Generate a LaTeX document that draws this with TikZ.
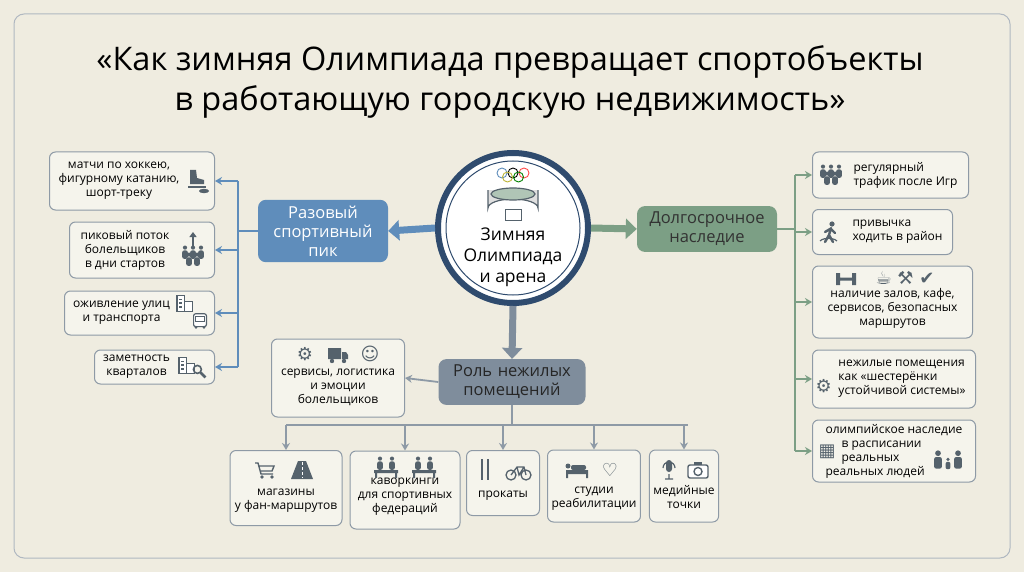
\documentclass[tikz,border=0pt]{standalone}
\usepackage{fontspec}
\setmainfont{Open Sans}
\newfontfamily\symfont{DejaVu Sans}
\usetikzlibrary{arrows.meta,positioning}
\definecolor{bgc}{HTML}{EFECE0}
\definecolor{navy}{HTML}{2F4B6E}
\definecolor{bluec}{HTML}{5F8DBB}
\definecolor{greenc}{HTML}{7C9F85}
\definecolor{grayc}{HTML}{7F8D9C}
\definecolor{linec}{HTML}{8E9AA6}
\definecolor{icon}{HTML}{55626C}
\tikzset{item/.style={draw=linec,line width=1pt,rounded corners=6pt,fill=bgc!60!white,align=center,font=\fontsize{12}{14}\selectfont,inner sep=4pt},
  hub/.style={rounded corners=8pt,text=white,align=center,font=\fontsize{16.5}{19}\selectfont,inner sep=6pt},
  bar/.style={line width=1.8pt,-{Stealth[length=7pt,width=8pt]}},
  fat/.style={line width=7pt,-{Triangle[length=11pt,width=20pt]}},
  ic/.style={text=icon,font=\symfont\fontsize{18}{18}\selectfont},
  person/.pic={\fill[icon] (0,-8) circle (2.6); \fill[icon,rounded corners=2pt] (-3.5,-4.5) rectangle (3.5,6);},
  crowd/.pic={\foreach \dx/\dy in {-8/-3,0/-3,8/-3,-4/4,4/4} \pic[scale=.8] at (\dx,\dy) {person};},
  bus/.pic={\draw[icon,fill=white,line width=1.2pt,rounded corners=2pt] (-8,-9) rectangle (8,7); \draw[icon,line width=1pt] (-6,-6) rectangle (6,0); \fill[icon] (-5,8) circle (1.8) (5,8) circle (1.8);},
  lens/.pic={\draw[icon,line width=1.6pt] (-2,-2) circle (5); \draw[icon,line width=2.6pt] (2,2) -- (8,8);},
  truck/.pic={\fill[icon] (-10,-6) rectangle (3,5) (4,-2) -- (8,-2) -- (10,1) -- (10,5) -- (4,5) -- cycle; \fill[icon] (-6,7) circle (2.2) (6,7) circle (2.2);},
  cart/.pic={\draw[icon,line width=1.4pt] (-10,-7) -- (-7,-7) -- (-4,4) -- (8,4) (-6,-4) -- (9,-4) -- (7,1) -- (-5,1); \fill[icon] (-3,7) circle (1.8) (7,7) circle (1.8);},
  road/.pic={\fill[icon] (-4,-9) -- (4,-9) -- (11,9) -- (-11,9) -- cycle; \draw[white,line width=1pt,dash pattern=on 3pt off 2pt] (0,-8) -- (0,8);},
  ski/.pic={\draw[icon,line width=2pt] (-3,-11) -- (-3,10) (3,-11) -- (3,10);},
  bike/.pic={\draw[icon,line width=1.3pt] (-7,3) circle (5) (8,3) circle (5) (-7,3) -- (-1,-5) -- (6,-5) -- (8,3) (-1,-5) -- (1,3) -- (6,-5);},
  bed/.pic={\fill[icon] (-12,0) rectangle (10,4) (-10,-4) circle (2.5); \fill[icon,rounded corners=2pt] (-7,-5) rectangle (8,0); \fill[icon] (-12,4) rectangle (-10,8) (8,4) rectangle (10,8);},
  mic/.pic={\fill[icon,rounded corners=3pt] (-3,-10) rectangle (3,2); \draw[icon,line width=1.2pt] (-6,-2) arc (180:0:6 and -6) (0,4) -- (0,9) (-4,9) -- (4,9);},
  camera/.pic={\draw[icon,fill=white,line width=1.4pt,rounded corners=2pt] (-10,-5) rectangle (10,8); \fill[icon] (-4,-8) rectangle (4,-5); \draw[icon,line width=1.4pt] (0,1.5) circle (4);},
  desk/.pic={\pic[scale=.8] at (-6,-3) {person}; \pic[scale=.8] at (6,-3) {person}; \fill[icon] (-12,2) rectangle (12,5) (-11,5) rectangle (-9,10) (9,5) rectangle (11,10);},
  walker/.pic={\fill[icon] (2,-9) circle (2.6); \draw[icon,line width=2.4pt,line cap=round] (1,-5) -- (-1,2) -- (-5,9) (-1,2) -- (3,9) (1,-4) -- (5,0) (0,-4) -- (-5,-1); \draw[icon,line width=1.2pt] (-10,8) arc (200:340:9 and 4);},
  skate/.pic={\fill[icon] (-7,-10) -- (-1,-10) -- (0,-2) -- (7,0) -- (7,4) -- (-7,4) -- cycle; \draw[icon,line width=1.2pt] (-9,7) -- (9,7); \fill[icon] (7,11) ellipse (5 and 2.2);},
  family/.pic={\pic[scale=1.1] at (-10,0) {person}; \pic[scale=1.1] at (10,0) {person}; \pic[scale=.7] at (0,3) {person};},
  dumbbell/.pic={\fill[icon] (-10,-6) rectangle (-6,6) (6,-6) rectangle (10,6) (-6,-1.5) rectangle (6,1.5);},
  buildings/.pic={\draw[icon,fill=white,line width=1.2pt] (-10,-8) rectangle (-2,9) (-2,-2) rectangle (7,9); \foreach \yy in {-5,-1,3} \fill[icon] (-8,\yy) rectangle (-4,\yy+2);}}
\begin{document}
\begin{tikzpicture}[x=1pt,y=-1pt]
\fill[bgc] (0,0) rectangle (1024,572);
\draw[linec!70,line width=1pt,rounded corners=10pt] (14,14) rectangle (1010,558);
\node[font=\fontsize{32.5}{40}\selectfont,align=center] (title) at (510,82) {«Как зимняя Олимпиада превращает спортобъекты\\в работающую городскую недвижимость»};
% centre
\node[circle,draw=navy,line width=6pt,fill=white,minimum size=150pt] (core) at (513,228) {};
\draw[navy,line width=1pt] (core.center) circle (67);
\node[align=center,font=\fontsize{17.5}{21}\selectfont] (coret) at (513,257) {Зимняя\\Олимпиада\\и арена};
\foreach \x/\y/\c in {-11/0/bluec,0/0/black,11/0/red!70,-5.5/4/yellow!70!black,5.5/4/green!50!black}
  \draw[\c,line width=.9pt] (513+\x,173+\y) circle (5);
\draw[icon,fill=gray!25,line width=1.2pt] (488,190) -- (488,208) arc (180:360:25 and 9) -- (538,190);
\draw[icon,fill=greenc!60,line width=1.2pt] (513,194) ellipse (22 and 6);
\draw[icon,fill=white,line width=1pt] (505,209) rectangle (521,220);
% hubs
\node[hub,fill=bluec,text width=118pt] (peak) at (323,231) {Разовый\\спортивный\\пик};
\node[hub,fill=greenc,text width=128pt,text=black!80] (legacy) at (707,229) {Долгосрочное\\наследие};
\node[hub,fill=grayc,text width=135pt,text=black!85] (role) at (512,382) {Роль нежилых\\помещений};
\draw[fat,bluec] (core.west) -- (peak.east);
\draw[fat,greenc] (core.east) -- (legacy.west);
\draw[fat,grayc] (core.south) -- (role.north);
% left items
\node[item,minimum width=165pt,minimum height=58pt,anchor=east] (hockey) at (215,181) {\hspace*{-26pt}матчи по хоккею,\\\hspace*{-26pt}фигурному катанию,\\\hspace*{-26pt}шорт-треку};
\pic at (197,180) {skate};
\node[item,minimum width=145pt,minimum height=56pt,anchor=east] (flow) at (215,250) {\hspace*{-34pt}пиковый поток\\\hspace*{-34pt}болельщиков\\\hspace*{-34pt}в дни стартов};
\pic at (193,257) {crowd};
\draw[icon,line width=2pt,-{Triangle[length=5pt,width=7pt]}] (193,248) -- (193,232);
\node[item,minimum width=150pt,minimum height=44pt,anchor=east] (streets) at (215,313) {\hspace*{-36pt}оживление улиц\\\hspace*{-36pt}и транспорта};
\pic[scale=.9] at (186,303) {buildings};
\pic[scale=.8] at (200,321) {bus};
\node[item,minimum width=120pt,minimum height=34pt,anchor=east] (quarters) at (215,367) {\hspace*{-36pt}заметность\\\hspace*{-36pt}кварталов};
\pic[scale=.9] at (188,365) {buildings};
\pic[scale=.8] at (199,371) {lens};
\coordinate (ltop) at (238,181);
\coordinate (lbot) at (238,367);
\draw[bluec,line width=1.8pt] (peak.west) -- (238,231);
\draw[bluec,line width=1.8pt] (ltop) -- (lbot);
\foreach \n/\y in {hockey/181,flow/250,streets/313,quarters/367}
  \draw[bar,bluec] (238,\y) -- (\n.east);
% right items
\node[item,minimum width=156pt,minimum height=46pt,anchor=west,align=left] (traffic) at (812,175) {\hspace*{30pt}регулярный\\\hspace*{30pt}трафик после Игр};
\pic at (831,176) {crowd};
\node[item,minimum width=140pt,minimum height=45pt,anchor=west,align=left] (habit) at (812,232) {\hspace*{30pt}привычка\\\hspace*{30pt}ходить в район};
\pic at (830,233) {walker};
\node[item,minimum width=160pt,minimum height=72pt,anchor=west] (halls) at (812,302) {\\[8pt]наличие залов, кафе,\\сервисов, безопасных\\маршрутов};
\pic at (846,279) {dumbbell};
\node[ic,anchor=north] (hallsi) at (905,268) {☕ ⚒ ✔};
\node[item,minimum width=163pt,minimum height=58pt,anchor=west,align=left] (gears) at (812,379) {\hspace*{16pt}нежилые помещения\\\hspace*{16pt}как «шестерёнки\\\hspace*{16pt}устойчивой системы»};
\node[ic,anchor=west] (gearsi) at (812,386) {⚙};
\node[item,minimum width=163pt,minimum height=62pt,anchor=west,align=left] (sched) at (812,451) {олимпийское наследие\\\hspace*{16pt}в расписании\\\hspace*{16pt}реальных\\реальных людей};
\node[ic,anchor=west] (schedi) at (815,452) {▦};
\pic at (948,462) {family};
\coordinate (rtop) at (795,175);
\coordinate (rbot) at (795,451);
\draw[greenc,line width=1.8pt] (legacy.east) -- (795,229);
\draw[greenc,line width=1.8pt] (rtop) -- (rbot);
\foreach \n/\y in {traffic/175,habit/232,halls/302,gears/379,sched/451}
  \draw[bar,greenc] (795,\y) -- (\n.west);
% bottom items
\node[item,minimum width=133pt,minimum height=78pt] (services) at (338,378) {\\[12pt]сервисы, логистика\\и эмоции\\болельщиков};
\node[ic] (servicesi) at (305,354) {⚙};
\node[ic] (servicesj) at (370,354) {☺};
\pic at (338,354) {truck};
\draw[bar,linec] (role.west) -- (services.east);
\node[item,minimum width=112pt,minimum height=75pt] (shops) at (286,488) {\\[18pt]магазины\\у фан-маршрутов};
\pic at (265,470) {cart};
\pic at (302,470) {road};
\node[item,minimum width=110pt,minimum height=78pt] (cowork) at (405,490) {\\[6pt]каворкинги\\для спортивных\\федераций};
\pic at (386,468) {desk};
\pic at (424,468) {desk};
\node[item,minimum width=73pt,minimum height=65pt] (rental) at (503,483) {\\[18pt]прокаты};
\pic at (485,470) {ski};
\pic at (518,472) {bike};
\node[item,minimum width=92pt,minimum height=72pt] (rehab) at (594,486) {\\[18pt]студии\\реабилитации};
\pic at (578,470) {bed};
\node[ic] (rehabi) at (610,470) {♡};
\node[item,minimum width=68pt,minimum height=72pt] (media) at (684,486) {\\[18pt]медийные\\точки};
\pic at (669,470) {mic};
\pic at (698,470) {camera};
\coordinate (bl) at (286,425);
\coordinate (br) at (688,425);
\draw[linec,line width=1.8pt] (role.south) -- (512,425);
\draw[linec,line width=1.8pt] (bl) -- (br);
\foreach \n in {shops,cowork,rental,rehab,media}
  \draw[bar,linec] (\n.north |- bl) -- (\n.north);
\end{tikzpicture}
\end{document}
